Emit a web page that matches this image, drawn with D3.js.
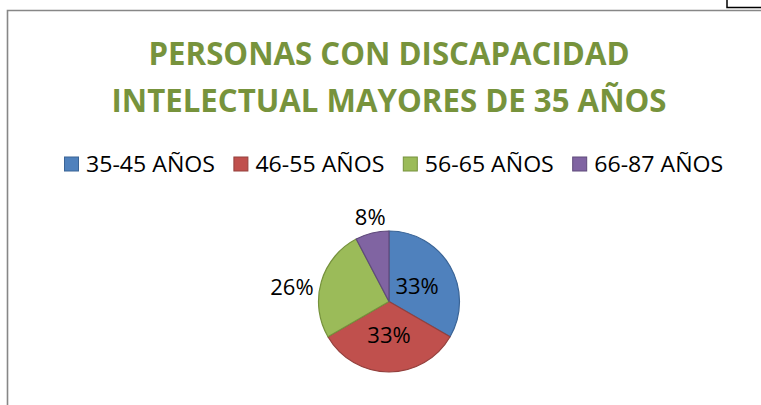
<!DOCTYPE html>
<html>
<head>
<meta charset="utf-8">
<script src="https://cdn.jsdelivr.net/npm/d3@7"></script>
<style>
  body { margin: 0; background: #fff; }
  svg { display: block; }
</style>
</head>
<body>
<div id="chart"></div>
<script>
// data
var categories = ["35-45 AÑOS", "46-55 AÑOS", "56-65 AÑOS", "66-87 AÑOS"];
var values = [13, 13, 10, 3];
var colors = ["#4F81BD", "#C0504D", "#9BBB59", "#8064A2"];
var strokes = ["#3A6496", "#94403D", "#76923C", "#5F4A7B"];
var titleLines = ["PERSONAS CON DISCAPACIDAD", "INTELECTUAL MAYORES DE 35 AÑOS"];

var width = 761, height = 405;

var svg = d3.select("#chart")
  .append("svg")
  .attr("width", width)
  .attr("height", height);

// stray line of another object in the top right corner
svg.append("path")
  .attr("d", "M727,0 V7.5 H761")
  .attr("fill", "none")
  .attr("stroke", "#000")
  .attr("stroke-width", 1.5);

// chart frame (only top and left edges are visible)
svg.append("path")
  .attr("d", "M7.5," + height + " V10.5 H" + width)
  .attr("fill", "none")
  .attr("stroke", "#878787")
  .attr("stroke-width", 1.6);

// title
var titleWidths = [481, 555];
svg.append("g")
  .selectAll("text")
  .data(titleLines)
  .enter().append("text")
    .attr("x", 389)
    .attr("y", function(d, i) { return 65 + i * 46.5; })
    .attr("text-anchor", "middle")
    .attr("textLength", function(d, i) { return titleWidths[i]; })
    .attr("lengthAdjust", "spacingAndGlyphs")
    .style("font-family", "'Open Sans', sans-serif")
    .style("font-weight", "bold")
    .style("font-size", "31.5px")
    .style("fill", "#77933C")
    .text(function(d) { return d; });

// legend
var legendX = d3.scaleBand()
  .domain(categories)
  .range([64, 64 + 169.4 * categories.length]);

var legend = svg.append("g")
  .selectAll("g")
  .data(categories)
  .enter().append("g")
    .attr("transform", function(d) { return "translate(" + legendX(d) + ",0)"; });

legend.append("rect")
  .attr("x", 0.5)
  .attr("y", 157)
  .attr("width", 14)
  .attr("height", 14)
  .attr("fill", function(d, i) { return colors[i]; })
  .attr("stroke", function(d, i) { return strokes[i]; })
  .attr("stroke-width", 1);

legend.append("text")
  .attr("x", 22)
  .attr("y", 171.5)
  .attr("textLength", 129)
  .attr("lengthAdjust", "spacingAndGlyphs")
  .style("font-family", "'Open Sans', sans-serif")
  .style("font-size", "22px")
  .style("fill", "#000")
  .text(function(d) { return d; });

// pie
var cx = 389, cy = 301.5, r = 70.5;
var total = d3.sum(values);

var pie = d3.pie().sort(null).value(function(d) { return d; });
var arc = d3.arc().innerRadius(0).outerRadius(r);
var arcs = pie(values);

var g = svg.append("g")
  .attr("transform", "translate(" + cx + "," + cy + ")");

g.selectAll("path")
  .data(arcs)
  .enter().append("path")
    .attr("d", arc)
    .attr("fill", function(d, i) { return colors[i]; })
    .attr("stroke", function(d, i) { return strokes[i]; })
    .attr("stroke-width", 1.2)
    .attr("stroke-linejoin", "round");

// labels: big slices inside, small ones outside (best fit)
function labelInfo(d) {
  var a = (d.startAngle + d.endAngle) / 2;
  var frac = d.value / total;
  var s = Math.sin(a), c = -Math.cos(a);
  if (frac > 0.3) {
    var ri = r * 0.46;
    return {x: ri * s, y: ri * c, anchor: "middle", base: "central"};
  }
  var ro = r + 8;
  if (Math.abs(s) < 0.5) {
    return {x: ro * s, y: ro * c, anchor: "middle", base: "auto"};
  }
  return {x: ro * s, y: ro * c + 6, anchor: s > 0 ? "start" : "end", base: "central"};
}

g.selectAll("text")
  .data(arcs)
  .enter().append("text")
    .each(function(d) {
      var p = labelInfo(d);
      d3.select(this)
        .attr("x", p.x)
        .attr("y", p.y)
        .attr("text-anchor", p.anchor)
        .attr("dominant-baseline", p.base);
    })
    .style("font-family", "'Open Sans', sans-serif")
    .style("font-size", "22px")
    .style("fill", "#000")
    .text(function(d) { return Math.round(d.value / total * 100) + "%"; });
</script>
</body>
</html>
